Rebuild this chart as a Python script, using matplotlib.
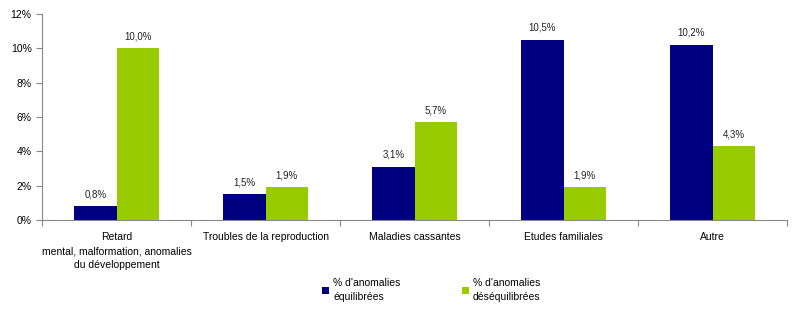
import numpy as np
import matplotlib
matplotlib.use("Agg")
import matplotlib.pyplot as plt
from matplotlib.ticker import FuncFormatter

categories = ["Retard\nmental, malformation, anomalies\ndu développement",
              "Troubles de la reproduction",
              "Maladies cassantes",
              "Etudes familiales",
              "Autre"]
equilibrees = [0.8, 1.5, 3.1, 10.5, 10.2]
desequilibrees = [10.0, 1.9, 5.7, 1.9, 4.3]
series_names = ["% d'anomalies\néquilibrées", "% d'anomalies\ndéséquilibrées"]

plt.rcParams['font.family'] = ['Liberation Sans', 'DejaVu Sans']
plt.rcParams['font.size'] = 7.5

fig = plt.figure(figsize=(8, 3.23), dpi=100)
ax = fig.add_axes([0.0525, 0.319, 0.9315, 0.638])

x = np.arange(len(categories))
w = 0.285
b1 = ax.bar(x - w / 2, equilibrees, w, color="#000080", label=series_names[0])
b2 = ax.bar(x + w / 2, desequilibrees, w, color="#99CC00", label=series_names[1])

for bars, vals in [(b1, equilibrees), (b2, desequilibrees)]:
    for bar, v in zip(bars, vals):
        ax.annotate(("%.1f%%" % v).replace(".", ","),
                    (bar.get_x() + bar.get_width() / 2, v),
                    xytext=(0, 5), textcoords="offset points",
                    ha="center", va="bottom", fontsize=7, color="#222222")

ax.set_xlim(-0.5, len(categories) - 0.5)
ax.set_ylim(0, 12)
ax.set_yticks(range(0, 13, 2))
ax.yaxis.set_major_formatter(FuncFormatter(lambda v, p: "%d%%" % v))

# category boundaries get the tick marks, labels sit in the middle
ax.set_xticks(np.arange(len(categories) + 1) - 0.5)
ax.set_xticklabels([])
ax.set_xticks(x, minor=True)
ax.set_xticklabels(categories, minor=True, linespacing=1.45)
ax.tick_params(axis="x", which="minor", length=0, pad=9)
ax.tick_params(axis="x", which="major", length=4, color="#888888", direction="out")
ax.tick_params(axis="y", length=4, color="#888888", direction="out")

for s in ["top", "right"]:
    ax.spines[s].set_visible(False)
for s in ["left", "bottom"]:
    ax.spines[s].set_color("#888888")

leg = fig.legend(handles=[b1, b2], loc="upper center", bbox_to_anchor=(0.539, 0.167),
                 ncol=2, frameon=False, handlelength=0.7, handleheight=0.7,
                 handletextpad=0.4, columnspacing=5.85, fontsize=7.5)
for t in leg.get_texts():
    t.set_linespacing(1.5)

fig.savefig("out.png", dpi=100)
